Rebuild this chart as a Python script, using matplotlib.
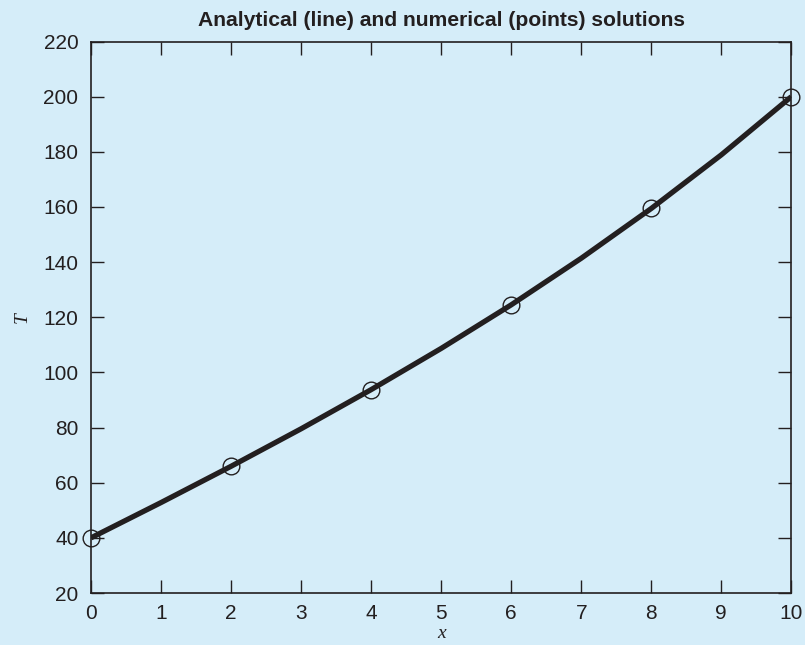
import numpy as np
import matplotlib.pyplot as plt

# analytical solution
x_line = [0, 1, 2, 3, 4, 5, 6, 7, 8, 9, 10]
T_line = [40, 52.8, 65.95, 79.55, 93.75, 108.7, 124.5, 141.4, 159.45, 178.9, 200]

# numerical solution (points)
x_pts = [0, 2, 4, 6, 8, 10]
T_pts = [40, 65.95, 93.75, 124.5, 159.45, 200]

bg = '#d5edf9'
ink = '#231f20'

plt.rcParams['font.family'] = ['Liberation Sans', 'DejaVu Sans']

fig = plt.figure(figsize=(8.05, 6.45), dpi=100, facecolor=bg)
ax = fig.add_axes([0.113, 0.0806, 0.870, 0.855], facecolor=bg)

ax.plot(x_line, T_line, color=ink, linewidth=3.8, solid_capstyle='butt', zorder=2)
ax.plot(x_pts, T_pts, 'o', markersize=12, markerfacecolor='none',
        markeredgecolor=ink, markeredgewidth=1.0, zorder=3, clip_on=False)

ax.set_xlim(0, 10)
ax.set_ylim(20, 220)
ax.set_xticks(range(0, 11))
ax.set_yticks(range(20, 221, 20))
ax.tick_params(direction='in', length=9.5, width=1, colors=ink, labelsize=15,
               top=True, right=True)
ax.tick_params(axis='y', pad=9)
ax.tick_params(axis='x', pad=8)
for s in ax.spines.values():
    s.set_color(ink)
    s.set_linewidth(1.2)

ax.set_title('Analytical (line) and numerical (points) solutions',
             fontsize=15.2, fontweight='bold', color=ink, pad=11)
ax.set_xlabel('x', fontsize=14, family='Liberation Serif', style='italic', color=ink, labelpad=1)
ax.set_ylabel('T', fontsize=14, family='Liberation Serif', style='italic', color=ink, labelpad=9)

fig.savefig('out.png', dpi=100, facecolor=bg)
